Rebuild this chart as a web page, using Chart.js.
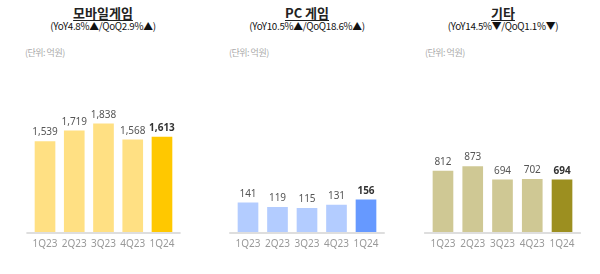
<!DOCTYPE html>
<html>
<head>
<meta charset="utf-8">
<script src="https://cdn.jsdelivr.net/npm/chart.js@4.4.1/dist/chart.umd.min.js"></script>
<style>
  body { margin: 0; background: #fff; font-family: "Noto Sans CJK KR", "Noto Sans", sans-serif; }
  #wrap { position: relative; width: 600px; height: 274px; overflow: hidden; }
  .title { position: absolute; top: 3px; font-size: 13px; font-weight: bold; color: #222; text-decoration: underline; text-underline-offset: 2px; transform: translateX(-50%); white-space: nowrap; }
  .sub { position: absolute; top: 19px; font-size: 9.8px; color: #111; transform: translateX(-50%); white-space: nowrap; letter-spacing: -0.3px; }
  .unit { position: absolute; top: 46px; font-size: 9px; color: #aaa; white-space: nowrap; letter-spacing: -0.5px; }
  canvas { position: absolute; top: 60px; }
</style>
</head>
<body>
<div id="wrap">
  <div class="title" style="left:103px">모바일게임</div>
  <div class="sub" style="left:103px">(YoY4.8%▲/QoQ2.9%▲)</div>
  <div class="unit" style="left:25px">(단위: 억원)</div>

  <div class="title" style="left:307px">PC 게임</div>
  <div class="sub" style="left:307px">(YoY10.5%▲/QoQ18.6%▲)</div>
  <div class="unit" style="left:229px">(단위: 억원)</div>

  <div class="title" style="left:503px">기타</div>
  <div class="sub" style="left:503px">(YoY14.5%▼/QoQ1.1%▼)</div>
  <div class="unit" style="left:425px">(단위: 억원)</div>

  <canvas id="c1" width="200" height="196" style="left:0"></canvas>
  <canvas id="c2" width="200" height="196" style="left:200px"></canvas>
  <canvas id="c3" width="200" height="196" style="left:400px"></canvas>
</div>
<script>
const quarters = ["1Q23", "2Q23", "3Q23", "4Q23", "1Q24"];
const mobileValues = [1539, 1719, 1838, 1568, 1613];
const pcValues = [141, 119, 115, 131, 156];
const otherValues = [812, 873, 694, 702, 694];

// 숫자 라벨 + 바닥선
const labelPlugin = {
  id: "valueLabels",
  afterDatasetsDraw(chart) {
    const ctx = chart.ctx;
    const meta = chart.getDatasetMeta(0);
    const data = chart.data.datasets[0].data;
    ctx.save();
    ctx.textAlign = "center";
    ctx.textBaseline = "bottom";
    meta.data.forEach((bar, i) => {
      const last = i === data.length - 1;
      ctx.fillStyle = last ? "#333" : "#555";
      ctx.font = (last ? "bold " : "") + "10px 'Noto Sans', sans-serif";
      ctx.fillText(data[i].toLocaleString("en-US"), bar.x, bar.y - 4);
    });
    const a = chart.chartArea;
    ctx.strokeStyle = "#dedede";
    ctx.lineWidth = 2;
    ctx.beginPath();
    ctx.moveTo(a.left - 4, a.bottom + 1);
    ctx.lineTo(a.right + 4, a.bottom + 1);
    ctx.stroke();
    ctx.restore();
  }
};

function makeChart(id, values, light, dark, max, padL, padR) {
  const colors = values.map((v, i) => i === values.length - 1 ? dark : light);
  return new Chart(document.getElementById(id), {
    type: "bar",
    data: {
      labels: quarters,
      datasets: [{ data: values, backgroundColor: colors, barThickness: 20 }]
    },
    options: {
      responsive: false,
      animation: false,
      layout: { padding: { left: padL, right: padR, top: 10, bottom: 0 } },
      plugins: { legend: { display: false }, tooltip: { enabled: false } },
      scales: {
        x: {
          grid: { display: false, drawTicks: false },
          border: { display: false },
          ticks: { color: "#999", font: { size: 10, family: "'Noto Sans', sans-serif" }, padding: 6, maxRotation: 0, autoSkip: false }
        },
        y: { display: false, min: 0, max: max }
      }
    },
    plugins: [labelPlugin]
  });
}

makeChart("c1", mobileValues, "#FFE083", "#FFC800", 2755, 30.4, 23.4);
makeChart("c2", pcValues, "#B3CCFF", "#6699FF", 785, 33.25, 19.25);
makeChart("c3", otherValues, "#CFC894", "#9C8F20", 2160, 28.1, 23.1);
</script>
</body>
</html>
